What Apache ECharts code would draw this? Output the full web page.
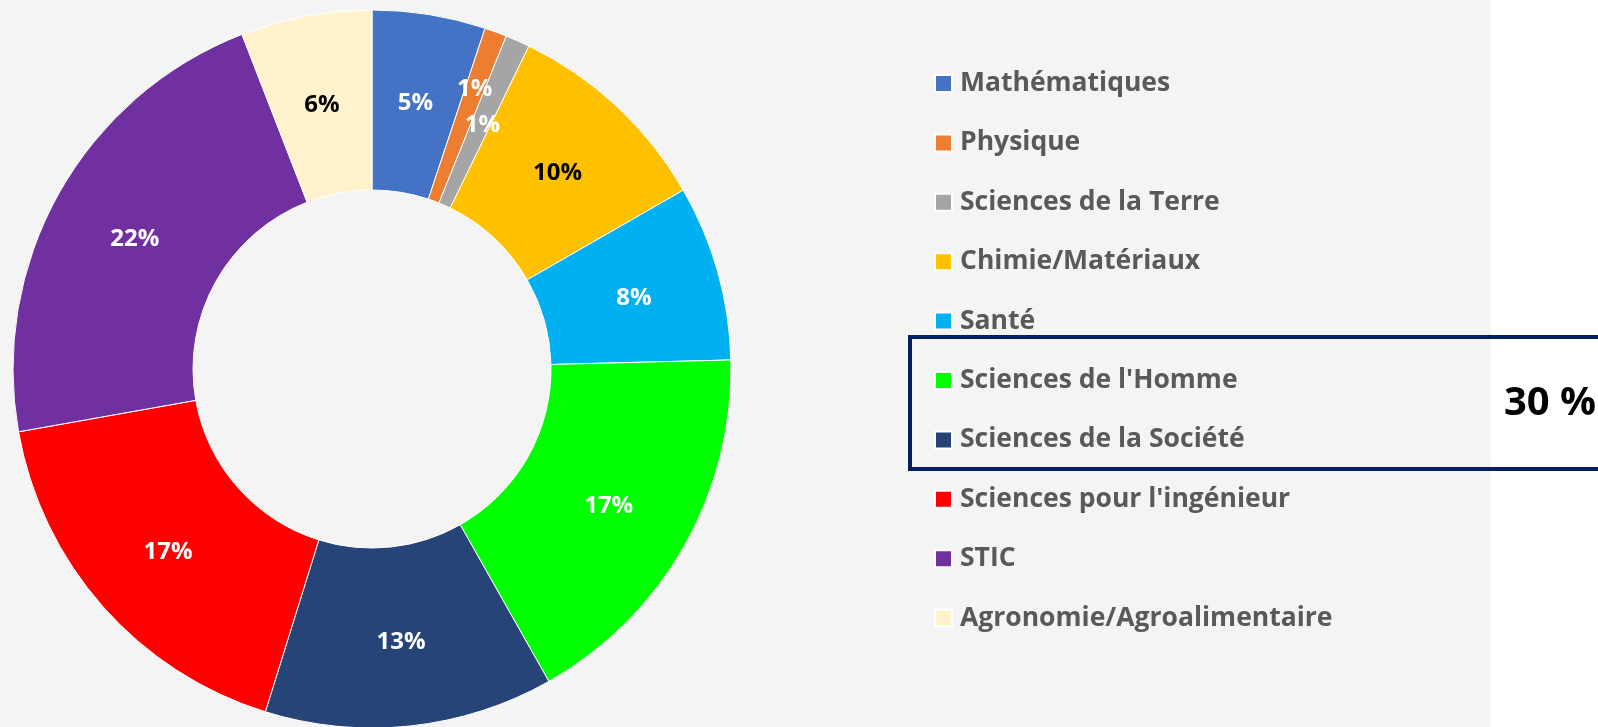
<!DOCTYPE html>
<html>
<head>
<meta charset="utf-8">
<script src="https://cdn.jsdelivr.net/npm/echarts@6/dist/echarts.min.js"></script>
<style>
  html, body { margin: 0; padding: 0; background: #ffffff; }
  #pie { width: 1598px; height: 727px; }
</style>
</head>
<body>
<div id="pie"></div>
<script>
// disciplines et parts (%)
var categories = ['Mathématiques', 'Physique', 'Sciences de la Terre', 'Chimie/Matériaux', 'Santé',
    "Sciences de l'Homme", 'Sciences de la Société', "Sciences pour l'ingénieur", 'STIC', 'Agronomie/Agroalimentaire'];
var shares = [5.1, 1.0, 1.1, 9.5, 7.9, 17.2, 13.0, 17.4, 21.9, 5.9];
var colors = ['#4472C4', '#ED7D31', '#A5A5A5', '#FFC000', '#00B0F0',
    '#00FF00', '#264478', '#FF0000', '#7030A0', '#FFF2CC'];
var groupedLabel = '30 %';

var darkLabels = { 'Chimie/Matériaux': true, 'Agronomie/Agroalimentaire': true };

var pieChart = echarts.init(document.getElementById('pie'));

var seriesData = categories.map(function (name, i) {
    var item = { name: name, value: shares[i] };
    item.label = { color: darkLabels[name] ? '#000000' : '#ffffff' };
    if (name === 'Physique') {
        item.label.offset = [9, -25];
    }
    if (name === 'Sciences de la Terre') {
        item.label.offset = [0, 5];
    }
    return item;
});

var option = {
    backgroundColor: '#ffffff',
    color: colors,
    animation: false,
    graphic: [
        {
            type: 'rect', z: -10, silent: true,
            shape: { x: 0, y: 0, width: 1491, height: 727 },
            style: { fill: '#f4f4f4' }
        },
        {
            type: 'rect', z: 5, silent: true,
            shape: { x: 910, y: 337, width: 720, height: 132 },
            style: { fill: 'none', stroke: '#002060', lineWidth: 4 }
        },
        {
            type: 'text', z: 6, silent: true,
            x: 1550, y: 404,
            style: {
                text: groupedLabel,
                fill: '#000000',
                font: 'bold 40px "Open Sans"',
                align: 'center',
                verticalAlign: 'middle'
            }
        }
    ],
    legend: {
        orient: 'vertical',
        left: 934,
        top: 70,
        padding: 0,
        itemWidth: 17,
        itemHeight: 17,
        itemGap: 32.4,
        icon: 'rect',
        textStyle: {
            color: '#595959',
            fontSize: 26.5,
            fontWeight: 'bold',
            fontFamily: 'Open Sans',
            padding: [0, 0, 0, 3]
        },
        data: categories
    },
    series: [
        {
            name: 'Disciplines',
            type: 'pie',
            center: [372, 369],
            radius: [179, 359],
            startAngle: 90,
            clockwise: true,
            itemStyle: {
                borderColor: '#ffffff',
                borderWidth: 1
            },
            label: {
                show: true,
                position: 'inside',
                offset: [0, 3],
                fontSize: 24,
                fontWeight: 'bold',
                fontFamily: 'Open Sans',
                formatter: function (p) {
                    return Math.round(p.value) + '%';
                }
            },
            labelLine: { show: false },
            data: seriesData
        }
    ]
};
pieChart.setOption(option);
</script>
</body>
</html>
